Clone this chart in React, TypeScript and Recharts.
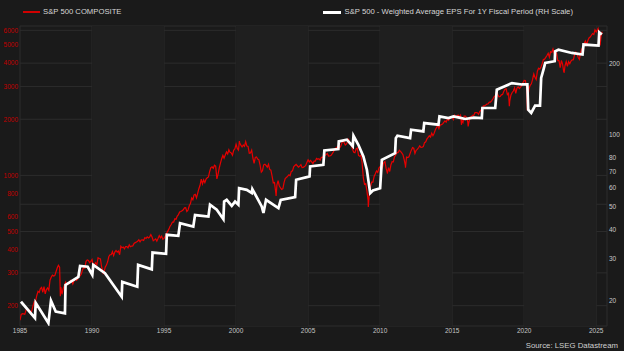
import React from 'react';
import { LineChart, Line, XAxis, YAxis, CartesianGrid, ReferenceArea } from 'recharts';

// S&P 500 COMPOSITE, month-end closes (first value = start of Jan 1985)
const spxStartDate = 1985.0;
const spxStartValue = 167.2;
const spx1985to1994 = [
  179.6, 181.2, 180.7, 179.8, 189.6, 191.9, 190.9, 188.6, 182.1, 189.8, 202.2, 211.3,
  211.8, 226.9, 238.9, 235.5, 247.4, 250.8, 236.1, 252.9, 231.3, 244.0, 249.2, 242.2,
  274.1, 284.2, 291.7, 288.4, 290.1, 304.0, 318.7, 329.8, 321.8, 251.8, 230.3, 247.1,
  257.1, 267.8, 258.9, 261.3, 262.2, 273.5, 272.0, 261.5, 271.9, 279.0, 273.7, 277.7,
  297.5, 288.9, 294.9, 309.6, 320.5, 318.0, 346.1, 351.5, 349.2, 340.4, 346.0, 353.4,
  329.1, 331.9, 339.9, 330.8, 361.2, 358.0, 356.2, 322.6, 306.1, 304.0, 322.2, 330.2,
  343.9, 367.1, 375.2, 375.3, 389.8, 371.2, 387.8, 395.4, 387.9, 392.5, 375.2, 417.1,
  408.8, 412.7, 403.7, 415.0, 415.4, 408.1, 424.2, 414.0, 417.8, 418.7, 431.4, 435.7,
  438.8, 443.4, 451.7, 440.2, 450.2, 450.5, 448.1, 463.6, 458.9, 467.8, 461.8, 466.5,
  481.6, 467.1, 445.8, 450.9, 456.5, 444.3, 458.3, 475.5, 462.7, 472.4, 453.7, 459.3,
];
const spx1995to2004 = [
  470.4, 487.4, 500.7, 514.7, 533.4, 544.8, 562.1, 561.9, 584.4, 581.5, 605.4, 615.9,
  636.0, 640.4, 645.5, 654.2, 669.1, 670.6, 640.0, 652.0, 687.3, 705.3, 757.0, 740.7,
  786.2, 790.8, 757.1, 801.3, 848.3, 885.1, 954.3, 899.5, 947.3, 914.6, 955.4, 970.4,
  980.3, 1049.3, 1101.8, 1111.8, 1090.8, 1133.8, 1120.7, 957.3, 1017.0, 1098.7, 1163.6, 1229.2,
  1279.6, 1238.3, 1286.4, 1335.2, 1301.8, 1372.7, 1328.7, 1320.4, 1282.7, 1362.9, 1388.9, 1469.3,
  1394.5, 1366.4, 1498.6, 1452.4, 1420.6, 1454.6, 1430.8, 1517.7, 1436.5, 1429.4, 1315.2, 1320.3,
  1366.0, 1239.9, 1160.3, 1249.5, 1255.8, 1224.4, 1211.2, 1133.6, 1040.9, 1059.8, 1139.5, 1148.1,
  1130.2, 1106.7, 1147.4, 1076.9, 1067.1, 989.8, 911.6, 916.1, 815.3, 885.8, 936.3, 879.8,
  855.7, 841.2, 848.2, 916.9, 963.6, 974.5, 990.3, 1008.0, 996.0, 1050.7, 1058.2, 1111.9,
  1131.1, 1144.9, 1126.2, 1107.3, 1120.7, 1140.8, 1101.7, 1104.2, 1114.6, 1130.2, 1173.8, 1211.9,
];
const spx2005to2014 = [
  1181.3, 1203.6, 1180.6, 1156.9, 1191.5, 1191.3, 1234.2, 1220.3, 1228.8, 1207.0, 1249.5, 1248.3,
  1280.1, 1280.7, 1294.9, 1310.6, 1270.1, 1270.2, 1276.7, 1303.8, 1335.9, 1377.9, 1400.6, 1418.3,
  1438.2, 1406.8, 1420.9, 1482.4, 1530.6, 1503.4, 1455.3, 1474.0, 1526.8, 1549.4, 1481.1, 1468.4,
  1378.6, 1330.6, 1322.7, 1385.6, 1400.4, 1280.0, 1267.4, 1282.8, 1166.4, 968.8, 896.2, 903.3,
  825.9, 735.1, 797.9, 872.8, 919.1, 919.3, 987.5, 1020.6, 1057.1, 1036.2, 1095.6, 1115.1,
  1073.9, 1104.5, 1169.4, 1186.7, 1089.4, 1030.7, 1101.6, 1049.3, 1141.2, 1183.3, 1180.6, 1257.6,
  1286.1, 1327.2, 1325.8, 1363.6, 1345.2, 1320.6, 1292.3, 1218.9, 1131.4, 1253.3, 1247.0, 1257.6,
  1312.4, 1365.7, 1408.5, 1397.9, 1310.3, 1362.2, 1379.3, 1406.6, 1440.7, 1412.2, 1416.2, 1426.2,
  1498.1, 1514.7, 1569.2, 1597.6, 1630.7, 1606.3, 1685.7, 1633.0, 1681.6, 1756.5, 1805.8, 1848.4,
  1782.6, 1859.5, 1872.3, 1884.0, 1923.6, 1960.2, 1930.7, 2003.4, 1972.3, 2018.1, 2067.6, 2058.9,
];
const spx2015to2025 = [
  1995.0, 2104.5, 2067.9, 2085.5, 2107.4, 2063.1, 2103.8, 1972.2, 1920.0, 2079.4, 2080.4, 2043.9,
  1940.2, 1932.2, 2059.7, 2065.3, 2097.0, 2098.9, 2173.6, 2171.0, 2168.3, 2126.2, 2198.8, 2238.8,
  2278.9, 2363.6, 2362.7, 2384.2, 2411.8, 2423.4, 2470.3, 2471.7, 2519.4, 2575.3, 2647.6, 2673.6,
  2823.8, 2713.8, 2640.9, 2648.1, 2705.3, 2718.4, 2816.3, 2901.5, 2914.0, 2711.7, 2760.2, 2506.9,
  2704.1, 2784.5, 2834.4, 2945.8, 2752.1, 2941.8, 2980.4, 2926.5, 2976.7, 3037.6, 3141.0, 3230.8,
  3225.5, 2954.2, 2584.6, 2912.4, 3044.3, 3100.3, 3271.1, 3500.3, 3363.0, 3270.0, 3621.6, 3756.1,
  3714.2, 3811.2, 3972.9, 4181.2, 4204.1, 4297.5, 4395.3, 4522.7, 4307.5, 4605.4, 4567.0, 4766.2,
  4515.6, 4373.9, 4530.4, 4131.9, 4132.2, 3785.4, 4130.3, 3955.0, 3585.6, 3872.0, 4080.1, 3839.5,
  4076.6, 3970.2, 4109.3, 4169.5, 4179.8, 4450.4, 4589.0, 4507.7, 4288.1, 4193.8, 4567.8, 4769.8,
  4845.7, 5096.3, 5254.4, 5035.7, 5277.5, 5460.5, 5522.3, 5648.4, 5762.5, 5705.5, 6032.4, 5881.6,
  6040.5, 5954.5, 5611.9, 5569.1, 5911.7,
];
// intra-month extremes visible on the red line
const spxExtraDates = [1987.80, 1990.78, 2000.23, 2002.78, 2007.78, 2009.18, 2010.5, 2011.76, 2015.65, 2016.11, 2018.97, 2020.22, 2022.78, 2025.13, 2025.27];
const spxExtraValues = [224.8, 295.5, 1527.5, 776.8, 1565.2, 676.5, 1022.6, 1099.2, 1867.6, 1829.1, 2351.1, 2237.4, 3577.0, 6144.2, 4982.8];

// S&P 500 - Weighted Average EPS For 1Y Fiscal Period (RH scale)
const epsDates = [
  1985.07, 1986.04, 1986.09, 1986.97, 1987.15, 1987.48, 1988.12, 1988.16, 1989.05, 1989.17,
  1989.70, 1990.02, 1990.09, 1990.90, 1991.48, 1992.06, 1992.10, 1993.14, 1993.20, 1994.15,
  1994.20, 1995.14, 1995.19, 1995.99, 1996.11, 1997.03, 1997.15, 1998.08, 1998.19, 1998.66,
  1999.12, 1999.17, 1999.35, 1999.70, 1999.93, 2000.16, 2000.21, 2000.74, 2001.09, 2001.13,
  2001.78, 2001.90, 2002.08, 2002.94, 2003.10, 2004.10, 2004.17, 2004.91, 2005.10, 2005.14,
  2006.06, 2006.13, 2007.10, 2007.13, 2007.69, 2008.10, 2008.15, 2008.49, 2008.84, 2009.08,
  2009.31, 2009.50, 2010.00, 2010.12, 2011.04, 2011.09, 2011.20, 2012.08, 2012.15, 2013.00,
  2013.06, 2014.05, 2014.12, 2014.74, 2015.09, 2015.50, 2015.90, 2016.50, 2017.06, 2017.10,
  2017.99, 2018.10, 2018.33, 2019.15, 2019.84, 2020.22, 2020.28, 2020.49, 2020.76, 2021.10,
  2021.18, 2021.34, 2021.46, 2022.12, 2022.15, 2022.38, 2023.31, 2024.05, 2024.12, 2025.16,
  2025.21, 2025.39,
];
const epsValues = [
  19.8, 16.9, 19.6, 16.1, 20.0, 18.0, 17.7, 23.3, 25.2, 28.0,
  27.8, 25.7, 28.3, 26.1, 23.3, 20.8, 24.0, 22.9, 28.3, 27.1,
  31.9, 31.5, 37.9, 37.5, 42.4, 41.0, 45.9, 45.2, 50.7, 48.3,
  44.1, 52.3, 53.2, 50.2, 52.3, 50.7, 59.6, 58.6, 56.8, 59.0,
  49.9, 46.8, 53.2, 49.1, 53.2, 54.6, 64.6, 66.3, 66.7, 73.5,
  74.7, 85.9, 87.0, 93.7, 95.3, 89.5, 99.0, 90.7, 81.0, 71.2,
  56.7, 58.2, 59.5, 78.4, 83.7, 96.8, 99.0, 96.8, 105.0, 103.3,
  112.0, 110.2, 119.5, 117.6, 119.5, 118.0, 116.5, 118.0, 117.5, 129.6,
  129.6, 154.7, 157.0, 165.0, 162.8, 163.0, 127.5, 123.5, 132.6, 132.6,
  173.5, 188.0, 200.5, 204.0, 224.5, 228.0, 221.0, 217.6, 239.8, 237.6,
  270.0, 264.0,
];

const xTicks = [1985, 1990, 1995, 2000, 2005, 2010, 2015, 2020, 2025];
const leftTicks = [200, 300, 400, 500, 600, 700, 800, 900, 1000, 2000, 3000, 4000, 5000, 6000];
const rightTicks = [20, 30, 40, 50, 60, 70, 80, 90, 100, 200];
const shadedBands = [[1990, 1995], [2000, 2005], [2010, 2015], [2020, 2025]];

const legendRed = 'S&P 500 COMPOSITE';
const legendWhite = 'S&P 500 - Weighted Average EPS For 1Y Fiscal Period (RH Scale)';
const sourceText = 'Source: LSEG Datastream';

type Row = { t: number; spx?: number; eps?: number };

function buildRows(): Row[] {
  const rows: Row[] = [{ t: spxStartDate, spx: spxStartValue }];
  const monthly = [...spx1985to1994, ...spx1995to2004, ...spx2005to2014, ...spx2015to2025];
  monthly.forEach((v, i) => rows.push({ t: spxStartDate + (i + 1) / 12, spx: v }));
  spxExtraDates.forEach((d, i) => rows.push({ t: d, spx: spxExtraValues[i] }));
  epsDates.forEach((d, i) => rows.push({ t: d, eps: epsValues[i] }));
  rows.sort((a, b) => a.t - b.t);
  return rows;
}

const data = buildRows();
const FONT = '"Liberation Sans", Arial, sans-serif';

export default function App() {
  return (
    <div style={{ position: 'absolute', left: 0, top: 0, width: 624, height: 351, background: '#1a1a1a', fontFamily: FONT, overflow: 'hidden' }}>
      <LineChart width={624} height={351} data={data} margin={{ top: 26, right: 0, bottom: 0, left: 0 }}>
        {shadedBands.map(([a, b]) => (
          <ReferenceArea key={a} x1={a} x2={b} yAxisId="left" fill="#1f1f1f" fillOpacity={1} stroke="none" ifOverflow="hidden" />
        ))}
        <CartesianGrid yAxisId="left" stroke="#2c2c2c" strokeWidth={1} />
        <XAxis
          type="number"
          dataKey="t"
          domain={[1985, 2025.75]}
          ticks={xTicks}
          allowDataOverflow
          axisLine={false}
          tickLine={false}
          tickSize={0}
          tickMargin={2}
          height={25}
          tick={{ fill: '#c4c4c4', fontSize: 6.5, fontFamily: FONT }}
        />
        <YAxis
          yAxisId="left"
          scale="log"
          domain={[155.6, 6330]}
          ticks={leftTicks}
          allowDataOverflow
          axisLine={false}
          tickLine={false}
          tickSize={0}
          tickMargin={2}
          width={20}
          tick={{ fill: '#c00000', fontSize: 6.5, fontFamily: FONT }}
        />
        <YAxis
          yAxisId="right"
          orientation="right"
          scale="log"
          domain={[15.65, 287]}
          ticks={rightTicks}
          allowDataOverflow
          axisLine={false}
          tickLine={false}
          tickSize={0}
          tickMargin={2}
          width={17}
          tick={{ fill: '#c8c8c8', fontSize: 6.5, fontFamily: FONT }}
        />
        <Line yAxisId="left" dataKey="spx" stroke="#e80000" strokeWidth={1.2} dot={false} connectNulls isAnimationActive={false} />
        <Line yAxisId="right" dataKey="eps" stroke="#ffffff" strokeWidth={2.7} dot={false} connectNulls isAnimationActive={false} strokeLinejoin="miter" />
      </LineChart>
      <div style={{ position: 'absolute', left: 23, top: 11, width: 17, height: 2, background: '#d00000' }} />
      <div style={{ position: 'absolute', left: 43, top: 7, lineHeight: '10px', fontSize: 7.7, color: '#d6d6d6', whiteSpace: 'nowrap' }}>{legendRed}</div>
      <div style={{ position: 'absolute', left: 323, top: 10.5, width: 17.5, height: 3, background: '#ffffff' }} />
      <div style={{ position: 'absolute', left: 344.5, top: 7, lineHeight: '10px', fontSize: 7.7, color: '#d6d6d6', whiteSpace: 'nowrap' }}>{legendWhite}</div>
      <div style={{ position: 'absolute', right: 6, top: 341, lineHeight: '10px', fontSize: 7.8, color: '#cfcfcf', whiteSpace: 'nowrap' }}>{sourceText}</div>
    </div>
  );
}
